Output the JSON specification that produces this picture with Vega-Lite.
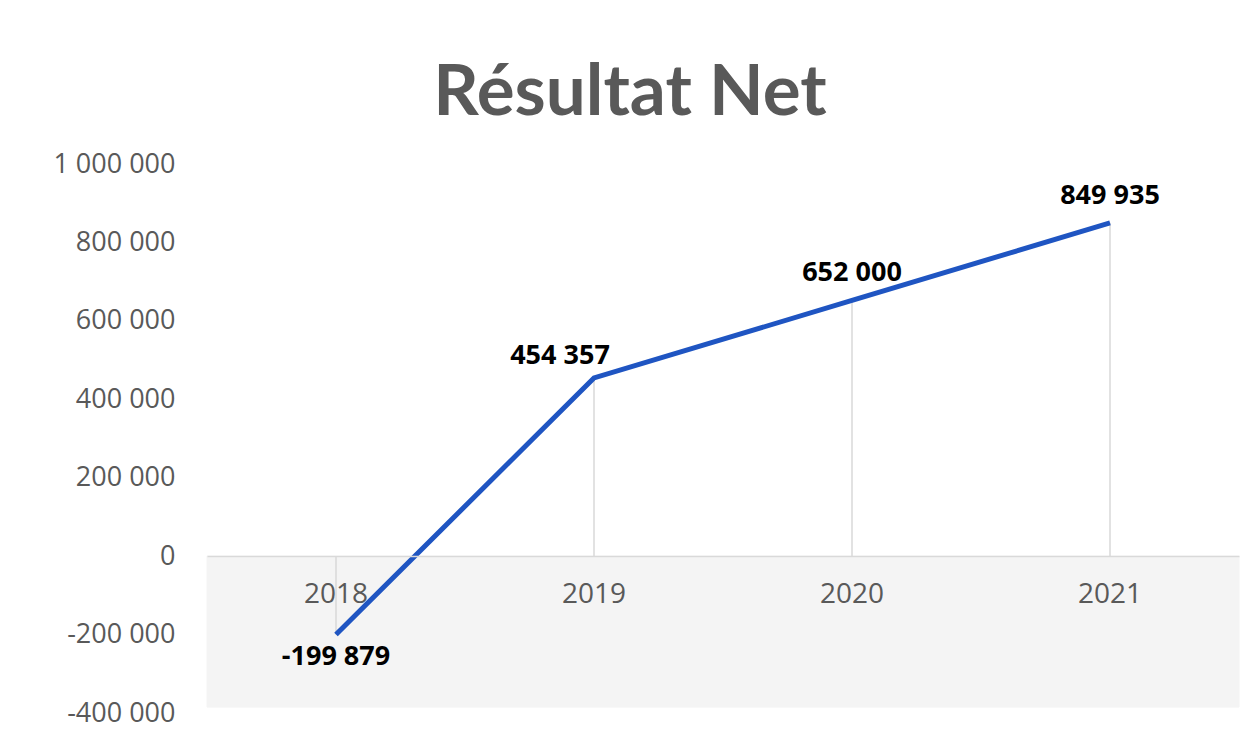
{
  "$schema": "https://vega.github.io/schema/vega-lite/v6.json",
  "autosize": "none",
  "width": 1032,
  "height": 549,
  "padding": {"left": 207, "top": 164, "right": 3, "bottom": 29},
  "background": "white",
  "config": {
    "locale": {"number": {"decimal": ",", "thousands": " ", "grouping": [3], "currency": ["", " €"], "minus": "-"}},
    "view": {"stroke": null},
    "font": "Lato"
  },
  "title": {
    "text": "Résultat Net",
    "font": "Lato",
    "fontSize": 71,
    "fontWeight": "bold",
    "color": "#595959",
    "anchor": "middle",
    "dx": -93,
    "offset": 20
  },
  "data": {
    "values": [
      {"year": "2018", "value": -199879},
      {"year": "2019", "value": 454357},
      {"year": "2020", "value": 652000},
      {"year": "2021", "value": 849935}
    ]
  },
  "encoding": {
    "x": {
      "field": "year", "type": "ordinal", "title": null,
      "scale": {"paddingInner": 0, "paddingOuter": 0},
      "axis": {
        "offset": -157, "labelAngle": 0, "ticks": false, "grid": false,
        "domainColor": "#d9d9d9", "domainWidth": 1.5,
        "labelFontSize": 28, "labelColor": "#595959", "labelPadding": 24, "labelFont": "Open Sans"
      }
    }
  },
  "layer": [
    {
      "mark": {"type": "rect", "color": "#f4f4f4", "stroke": "#f4f4f4", "strokeWidth": 1},
      "encoding": {
        "y": {"datum": 0, "type": "quantitative", "scale": {"domain": [-400000, 1000000], "nice": false}},
        "y2": {"datum": -385000}
      }
    },
    {
      "mark": {"type": "rule", "color": "#d9d9d9", "strokeWidth": 1.5},
      "encoding": {
        "y": {"field": "value", "type": "quantitative",
          "scale": {"domain": [-400000, 1000000], "nice": false},
          "axis": {
            "title": null, "values": [-400000, -200000, 0, 200000, 400000, 600000, 800000, 1000000],
            "format": ",d", "grid": false, "domain": false, "ticks": false,
            "labelFontSize": 27, "labelColor": "#595959", "labelPadding": 32, "labelFont": "Open Sans"
          }
        },
        "y2": {"datum": 0}
      }
    },
    {
      "mark": {"type": "line", "color": "#1f55c2", "strokeWidth": 5},
      "encoding": {"y": {"field": "value", "type": "quantitative"}}
    },
    {
      "transform": [{"filter": "datum.value >= 0 && datum.year != '2019'"}],
      "mark": {"type": "text", "fontSize": 27, "fontWeight": "bold", "color": "#000000", "dy": -27, "font": "Open Sans"},
      "encoding": {"y": {"field": "value", "type": "quantitative"}, "text": {"field": "value", "type": "quantitative", "format": ",d"}}
    },
    {
      "transform": [{"filter": "datum.year == '2019'"}],
      "mark": {"type": "text", "fontSize": 27, "fontWeight": "bold", "color": "#000000", "dy": -22, "dx": -34, "font": "Open Sans"},
      "encoding": {"y": {"field": "value", "type": "quantitative"}, "text": {"field": "value", "type": "quantitative", "format": ",d"}}
    },
    {
      "transform": [{"filter": "datum.value < 0"}],
      "mark": {"type": "text", "fontSize": 27, "fontWeight": "bold", "color": "#000000", "dy": 22, "font": "Open Sans"},
      "encoding": {"y": {"field": "value", "type": "quantitative"}, "text": {"field": "value", "type": "quantitative", "format": ",d"}}
    }
  ]
}
